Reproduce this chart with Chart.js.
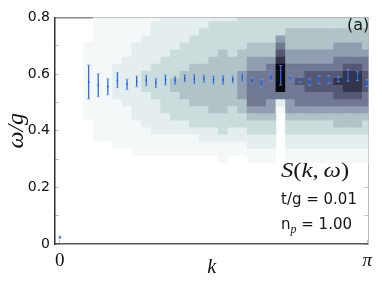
<!DOCTYPE html>
<html><head><meta charset="utf-8">
<script src="https://cdn.jsdelivr.net/npm/chart.js@4"></script>
<style>html,body{margin:0;padding:0;background:#fff;overflow:hidden;}</style>
</head><body>
<canvas id="c" width="382" height="287"></canvas>
<script>
// ---- data ----
const kSteps = 32;                       // k = n*pi/kSteps, n = 0..32
const kIdx = [0,1,2,3,4,5,6,7,8,9,10,11,12,13,14,15,16,17,18,19,20,21,22,23,24,25,26,27,28,29,30,31,32];
const omegaRows = [0.800,0.775,0.750,0.725,0.700,0.675,0.650,0.625,0.600,0.575,0.550,0.525,0.500,0.475,0.450,0.425,0.400,0.375,0.350,0.325,0.300,0.275,0.250,0.225,0.200,0.175,0.150,0.125,0.100,0.075,0.050,0.025,0.000];
// intensity level (0..9) per column n, rows top (omega=0.8) to bottom (omega=0)
const heatLevels = [
  "000000000000000000000000000000000",
  "000000000000000000000000000000000",
  "000000000000000000000000000000000",
  "000011111111111000000000000000000",
  "111111111111111111000000000000000",
  "111111111111111111000000000000000",
  "111111122222111111100000000000000",
  "111111222222211111100000000000000",
  "111122222222222111110000000000000",
  "111222223332222211110000000000000",
  "122222233333222221110000000000000",
  "222222333333332221110000000000000",
  "222223333443333221110000000000000",
  "222233334444333221110000000000000",
  "222333344444433321110000000000000",
  "223333344444433322110000000000000",
  "233333444444443322110000000000000",
  "233334444444443332111000000000000",
  "233333444444433322110000000000000",
  "333334445555443322110000000000000",
  "333344556666654332211000000000000",
  "333344556666654332211000000000000",
  "333344566666554332211000000000000",
  "333567899996210000000000000000000",
  "334445566666554332211000000000000",
  "334445566766654332211000000000000",
  "334445567776654332211000000000000",
  "334445567776654332211000000000000",
  "334445567776654332211000000000000",
  "334455667877654432211000000000000",
  "334455678887654432211000000000000",
  "334455678887654432211000000000000",
  "334445667776654332211000000000000"
];
// error-bar points
const ebIdx   = [0,3,4,5,6,7,8,9,10,11,12,13,14,15,16,17,18,19,20,21,22,23,24,25,26,27,28,29,30,31,32];
const ebOmega = [0.0235,0.572,0.561,0.556,0.578,0.564,0.574,0.578,0.570,0.580,0.578,0.585,0.582,0.583,0.580,0.580,0.581,0.589,0.577,0.568,0.589,0.596,0.585,0.580,0.572,0.580,0.580,0.581,0.599,0.592,0.568];
const ebLow   = [0.019,0.512,0.520,0.527,0.552,0.545,0.555,0.559,0.552,0.561,0.563,0.572,0.565,0.570,0.566,0.563,0.568,0.573,0.566,0.555,0.576,0.561,0.574,0.572,0.561,0.566,0.568,0.573,0.575,0.577,0.556];
const ebHigh  = [0.028,0.632,0.601,0.583,0.605,0.582,0.593,0.596,0.585,0.597,0.592,0.599,0.599,0.596,0.593,0.596,0.593,0.604,0.588,0.581,0.601,0.630,0.596,0.590,0.583,0.594,0.594,0.590,0.616,0.608,0.580];
const xTickVals = [0, Math.PI];
const xTickLabels = ['0', 'π'];
const yTickLabels = ['0','','0.2','','0.4','','0.6','','0.8'];

// ---- style ----
const palette = ['#ffffff','#f4f8f8','#e4eeee','#cbdcdc','#b0c3c7','#919db0','#717893','#545874','#33354d','#0a0a10'];
const kOf = n => n * Math.PI / kSteps;
const rowHalf = (omegaRows[0] - omegaRows[1]) / 2;

const datasets = [];
omegaRows.forEach((w, r) => {
  const data = [], cols = [];
  kIdx.forEach(n => {
    const lvl = +heatLevels[n][r];
    if (lvl > 0) { data.push({x: kOf(n), y: [w - rowHalf, w + rowHalf]}); cols.push(palette[lvl]); }
  });
  if (data.length) datasets.push({type:'bar', data, backgroundColor: cols, grouped:false,
    barPercentage:1, categoryPercentage:1, borderWidth:0, order:10});
});
datasets.push({type:'bar', data: ebIdx.map((n,i)=>({x:kOf(n), y:[ebLow[i], ebHigh[i]]})),
  backgroundColor:'#2d6ce6', barThickness:1.3, inflateAmount:0, grouped:false, borderWidth:0, order:2});
datasets.push({type:'scatter', data: ebIdx.flatMap((n,i)=>[{x:kOf(n),y:ebLow[i]},{x:kOf(n),y:ebHigh[i]}]),
  pointStyle:'line', pointRadius:1.6, borderColor:'rgba(120,160,235,0.7)', borderWidth:1, order:1});
datasets.push({type:'scatter', data: ebIdx.map((n,i)=>({x:kOf(n), y:ebOmega[i]})),
  pointStyle:'rect', pointRadius:1, backgroundColor:'#1c55d0', borderWidth:0, order:0});

function drawRuns(ctx, x, y, runs, sx) {
  ctx.save(); ctx.translate(x, y); ctx.scale(sx, 1);
  let cx = 0;
  runs.forEach(([t, f, dy]) => { ctx.font = f; ctx.fillText(t, cx, dy || 0); cx += ctx.measureText(t).width; });
  ctx.restore();
}
const annot = {
  id:'annot',
  afterDraw(chart) {
    const ctx = chart.ctx;
    ctx.save();
    ctx.fillStyle = '#151515';
    ctx.textBaseline = 'alphabetic';
    ctx.textAlign = 'left';
    ctx.font = '16px "DejaVu Sans"';
    ctx.fillText('(a)', 347, 30);
    const it = 'italic 22px "Liberation Serif"', up = '22px "Liberation Serif"';
    drawRuns(ctx, 281, 177, [['S',it],['(',up],['k',it],[',',up],['\u2009',up],['ω',it],[')',up]], 1.12);
    ctx.font = '15px "DejaVu Sans"';
    ctx.fillText('t/g = 0.01', 281, 204);
    drawRuns(ctx, 281, 229, [['n','15px "DejaVu Sans"'],['p','italic 12px "Liberation Serif"',4],[' = 1.00','15px "DejaVu Sans"']], 1);
    ctx.restore();
  }
};

const xMin = -Math.PI / kSteps / 2, xMax = Math.PI + 0.12 * Math.PI / kSteps;
new Chart(document.getElementById('c'), {
  type:'bar',
  data:{ datasets },
  options:{
    responsive:false, animation:false, devicePixelRatio:1,
    layout:{ padding:{ top:5, right:5, left:0, bottom:0 } },
    plugins:{ legend:{display:false}, tooltip:{enabled:false} },
    scales:{
      x:{ type:'linear', min:xMin, max:xMax, offset:false,
        afterBuildTicks(s){ s.ticks = xTickVals.map(v=>({value:v})); },
        afterFit(s){ s.height = 43; },
        ticks:{ padding:10, color:'#111', autoSkip:false, maxRotation:0,
          font:(c)=> c.index === 1 ? {family:'Liberation Serif', size:19, style:'italic'} : {family:'Liberation Serif', size:19},
          callback:(v,i)=>xTickLabels[i] },
        grid:{ offset:false, drawOnChartArea:false, tickLength:-4, color:'#c4c4c4' },
        border:{ color:'#555', width:1.5 },
        title:{ display:true, text:'k', color:'#111', font:{family:'Liberation Serif', style:'italic', size:20}, padding:{top:0,bottom:7} }
      },
      x2:{ type:'linear', position:'top', min:xMin, max:xMax, offset:false,
        afterFit(s){ s.height = 0; },
        ticks:{display:false}, grid:{display:false, offset:false}, border:{color:'#8a8a8a', width:1.5} },
      y:{ type:'linear', min:0, max:0.8,
        afterFit(s){ s.width = 55; },
        ticks:{ stepSize:0.1, padding:9, color:'#111', font:{family:'DejaVu Sans', size:14},
          callback:(v,i)=>yTickLabels[i] },
        grid:{ drawOnChartArea:false, tickLength:-4, color:'#c4c4c4' },
        border:{ color:'#333', width:1.5 },
        title:{ display:true, text:'ω/g', color:'#111', font:{family:'Liberation Serif', style:'italic', size:24}, padding:{top:2,bottom:0} }
      },
      y2:{ type:'linear', position:'right', min:0, max:0.8,
        afterFit(s){ s.width = 0; },
        ticks:{display:false, stepSize:0.1},
        grid:{ drawOnChartArea:false, tickLength:-4, color:'#c4c4c4' },
        border:{ color:'#bbbbbb', width:1 } }
    }
  },
  plugins:[annot]
});
</script>
</body></html>
